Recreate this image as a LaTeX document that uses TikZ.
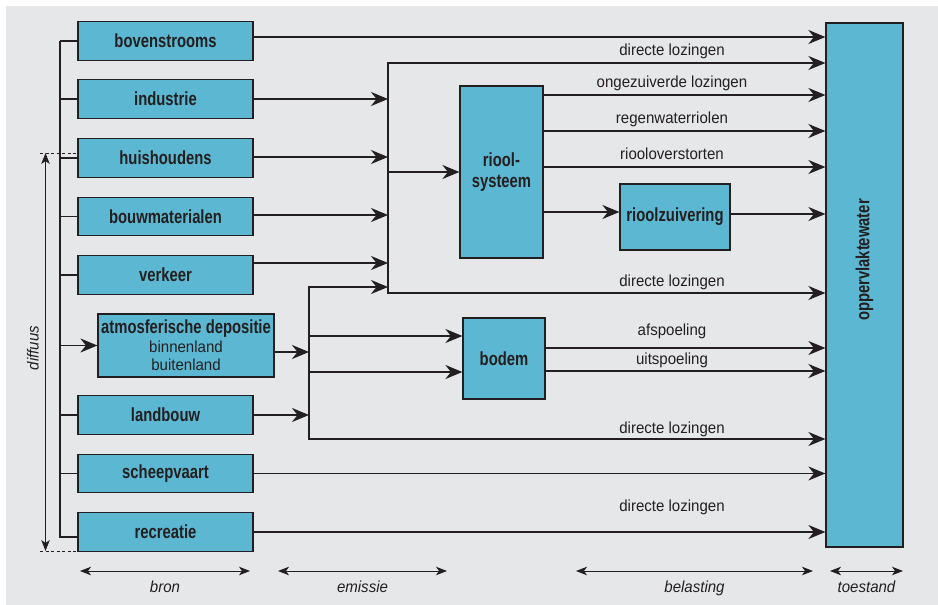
\documentclass[tikz,border=0pt]{standalone}
\usepackage{fontspec}
\setmainfont{Liberation Sans}[FakeStretch=0.94]
\newfontfamily\condbf{Liberation Sans}[FakeStretch=0.78]
\usepackage{tikz}
\usetikzlibrary{arrows.meta, positioning}
\definecolor{boxblue}{HTML}{5CB8D2}
\definecolor{panelgrey}{HTML}{E6E7E9}
\definecolor{ink}{HTML}{231F20}
\tikzset{%
	every block/.style={
		draw=ink,
		line width=1.2pt,
		fill=boxblue,
		text=ink,
		inner sep=0pt,
		align=center,
		font=\condbf\bfseries\fontsize{19}{18.5}\selectfont
	},
	block source/.style={
		minimum width=175pt,
		minimum height=38.5pt
	},
	flow/.style={
		draw=ink,
		line width=1.8pt,
		-{Stealth[length=17pt,width=14pt,inset=5.5pt]}
	},
	bus/.style={
		draw=ink,
		line width=1.8pt
	},
	flow label/.style={
		text=ink,
		inner sep=0pt,
		anchor=base,
		font=\fontsize{16}{18}\selectfont
	},
	span/.style={
		draw=ink,
		line width=0.9pt,
		{Stealth[length=11pt,width=8.5pt,inset=3pt]}-{Stealth[length=11pt,width=8.5pt,inset=3pt]}
	},
	span label/.style={
		text=ink,
		inner sep=0pt,
		anchor=base,
		yshift=-21pt,
		font=\itshape\fontsize{16}{18}\selectfont
	},
}

\begin{document}
\begin{tikzpicture}[x=1pt, y=-1pt]
	\useasboundingbox (0,0) rectangle (938,605);
	\fill[panelgrey] (6,6) rectangle (938,605);

	\foreach \m/\l/\y in {bov/bovenstrooms/41, ind/industrie/99, hui/huishoudens/158, bouw/bouwmaterialen/216.5, verk/verkeer/275, land/landbouw/415, scheep/scheepvaart/473.5, recr/recreatie/532}
	\node [every block, block source] (src-\m) at (165.5,\y) {\l};

	\node [every block, minimum width=176pt, minimum height=63pt] (src-atm) at (186,345.5)
	{atmosferische depositie\\{\normalfont\fontsize{16}{18.5}\selectfont binnenland}\\{\normalfont\fontsize{16}{18.5}\selectfont buitenland}};

	\node [every block, minimum width=83pt, minimum height=172pt] (riool) at (501.5,172) {riool-\\[2.5pt]systeem};
	\node [every block, minimum width=110pt, minimum height=66pt] (zuiv) at (675,217) {rioolzuivering};
	\node [every block, minimum width=82pt, minimum height=81pt] (bodem) at (504,358.5) {bodem};
	\node [every block, minimum width=77pt, minimum height=524pt] (opp) at (864.5,285) {};
	\node [rotate=90, text=ink, font=\condbf\bfseries\fontsize{19}{20}\selectfont] (opp-txt) at ([yshift=25pt]opp.center) {oppervlaktewater};

	\coordinate (in-bus) at (60,41);
	\coordinate (em-top) at (388,63);
	\coordinate (em-bot) at (388,293);
	\coordinate (bd-top) at (309,287);
	\coordinate (bd-bot) at (309,439);
	\coordinate (lbl-x) at (672,0);

	% bronnen
	\draw [bus] (in-bus |- src-bov) -- ([yshift=-5pt]in-bus |- src-recr) -- ([yshift=-5pt]src-recr.west);
	\foreach \m in {bov,ind,hui,bouw,verk,land,scheep}
	\draw [bus] (in-bus |- src-\m) -- (src-\m.west);
	\draw [flow] (in-bus |- src-atm) -- (src-atm.west);

	% emissie
	\foreach \m/\d in {ind/0, hui/1, bouw/1.5, verk/12}
	\draw [flow] ([yshift=\d pt]src-\m.east) -- ([yshift=\d pt]src-\m.east -| em-top);
	\draw [flow] ([yshift=-6.5pt]src-atm.east) -- ([yshift=-6.5pt]src-atm.east -| bd-top);
	\draw [flow] (src-land.east) -- (src-land.east -| bd-top);
	\draw [flow] (bd-bot) -- (bd-top) -- (bd-top -| em-top);
	\draw [flow] (em-top |- riool) -- (riool.west);
	\draw [flow] ([yshift=-40pt]riool.east) -- ([yshift=-40pt]riool.east -| zuiv.west);
	\foreach \d in {22.5,-13.5}
	\draw [flow] ([yshift=\d pt]bodem.west -| bd-top) -- ([yshift=\d pt]bodem.west);

	% belasting
	\draw [flow] ([yshift=4pt]src-bov.east) -- ([yshift=4pt]src-bov.east -| opp.west);
	\draw [flow] (em-bot) -- (em-top) -- (em-top -| opp.west);
	\node [flow label] (lbl-dl-1) at ([yshift=7pt]lbl-x |- em-top) {directe lozingen};
	\foreach \d/\l [count=\i] in {77/ongezuiverde lozingen, 41/regenwaterriolen, 5/riooloverstorten} {
		\draw [flow] ([yshift=\d pt]riool.east) -- ([yshift=\d pt]riool.east -| opp.west);
		\node [flow label] (lbl-riool-\i) at ([yshift=\d pt+8pt]lbl-x |- riool.east) {\l};
	}
	\draw [flow] ([yshift=3pt]zuiv.east) -- ([yshift=3pt]zuiv.east -| opp.west);
	\draw [flow] (em-top) -- (em-bot) -- (em-bot -| opp.west);
	\node [flow label] (lbl-dl-2) at ([yshift=7pt]lbl-x |- em-bot) {directe lozingen};
	\foreach \d/\s/\l [count=\i] in {10.5/13/afspoeling, -12.5/7/uitspoeling} {
		\draw [flow] ([yshift=\d pt]bodem.east) -- ([yshift=\d pt]bodem.east -| opp.west);
		\node [flow label] (lbl-bodem-\i) at ([yshift=\d pt+\s pt]lbl-x |- bodem.east) {\l};
	}
	\draw [flow] (bd-top) -- (bd-bot) -- (bd-bot -| opp.west);
	\node [flow label] (lbl-dl-3) at ([yshift=6pt]lbl-x |- bd-bot) {directe lozingen};
	\draw [flow] (src-scheep.east) -- (src-scheep.east -| opp.west);
	\draw [flow] (src-recr.east) -- (src-recr.east -| opp.west);
	\node [flow label] (lbl-dl-4) at ([yshift=21pt]lbl-x |- src-recr.east) {directe lozingen};

	% diffuus
	\coordinate (dif-top) at (40,153);
	\coordinate (dif-bot) at (40,551);
	\draw [ink, line width=0.9pt, dash pattern=on 3pt off 2.5pt] (dif-top) -- (dif-top -| src-hui.west);
	\draw [ink, line width=0.9pt, dash pattern=on 3pt off 2.5pt] (dif-bot) -- (dif-bot -| src-recr.west);
	\draw [span] ([xshift=5.5pt]dif-bot) -- ([xshift=5.5pt]dif-top);
	\node [rotate=90, text=ink, inner sep=0pt, font=\itshape\fontsize{16}{18}\selectfont] (lbl-diffuus) at (33,348) {diffuus};

	% bron / emissie / belasting / toestand
	\foreach \l/\a/\b in {bron/80/250, emissie/278/447, belasting/576/813, toestand/830/903} {
		\coordinate (\l-a) at (\a,571);
		\coordinate (\l-b) at (\b,571);
		\draw [span] (\l-a) -- (\l-b) node [span label, midway] (lbl-\l) {\l};
	}
\end{tikzpicture}
\end{document}
